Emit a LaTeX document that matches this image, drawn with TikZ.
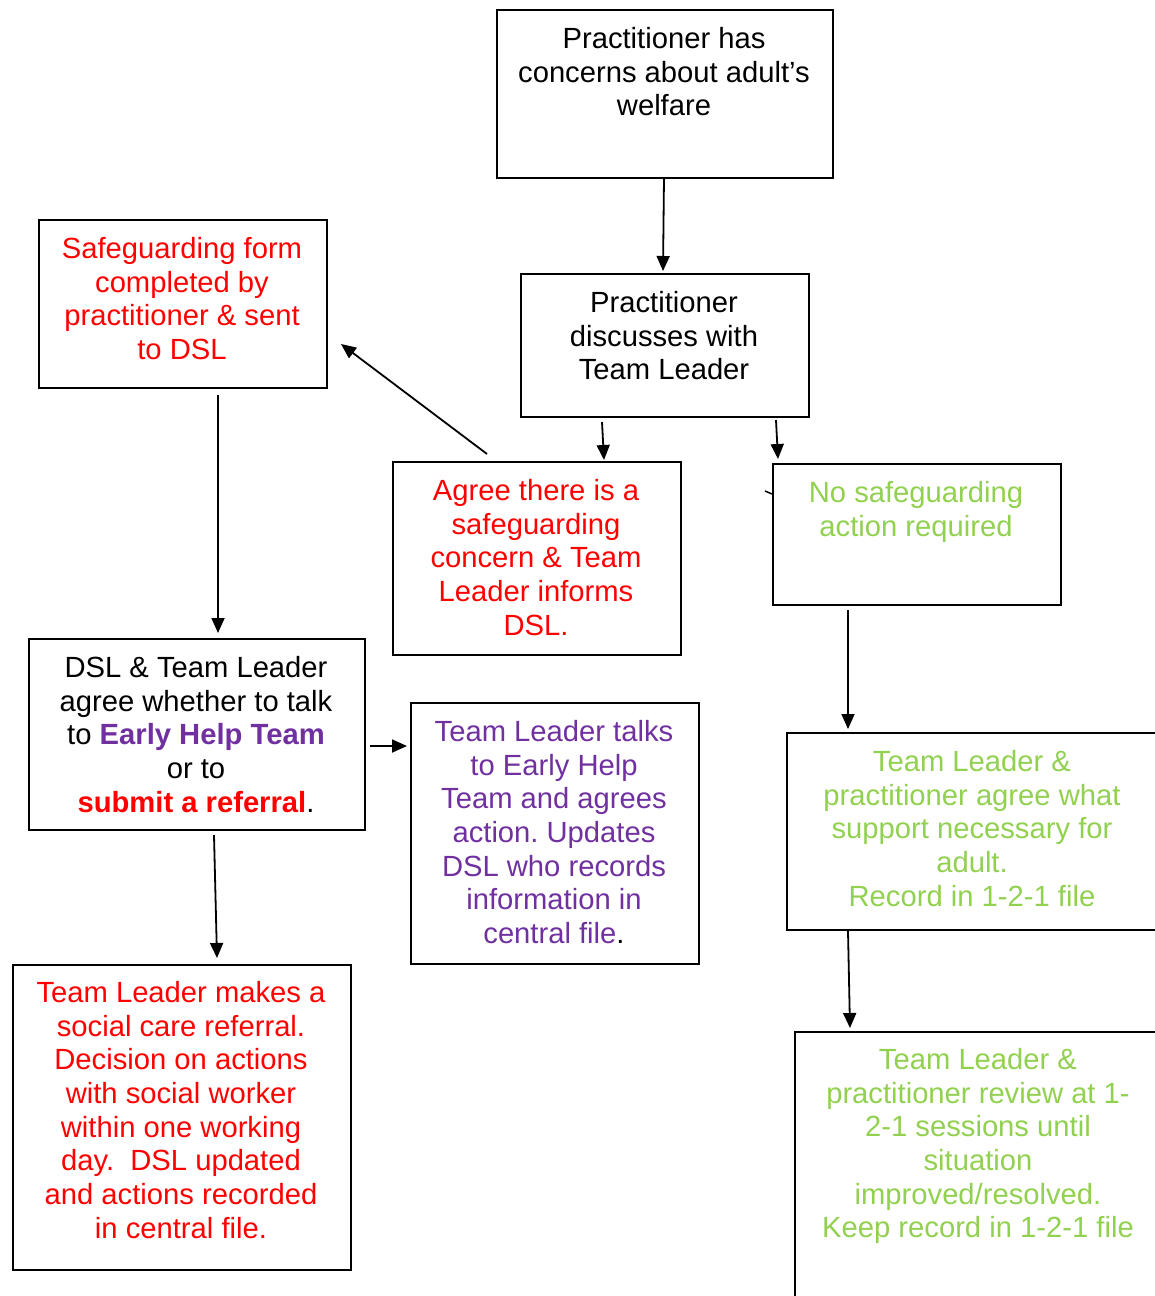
\documentclass[tikz,border=0pt]{standalone}
\usepackage{fontspec}
\setmainfont{Liberation Sans}
\usetikzlibrary{arrows.meta}
\definecolor{sred}{RGB}{255,0,0}
\definecolor{spurple}{RGB}{112,48,160}
\definecolor{sgreen}{RGB}{146,208,80}
\tikzset{
  box/.style={draw, line width=1pt, inner sep=0pt, anchor=north west},
  txt/.style={anchor=north, align=center, inner sep=0pt, font=\fontsize{14.6}{16.85}\selectfont},
  arr/.style={line width=0.9pt, -{Triangle[length=7.5pt,width=6.5pt]}},
}
\newcommand{\topstrut}{\rule{0pt}{12pt}}
\frenchspacing
\begin{document}
\begin{tikzpicture}[x=0.5pt,y=-0.5pt]
\useasboundingbox (0,0) rectangle (1155,1296);
\clip (0,0) rectangle (1155,1296);
% boxes
\node[box, minimum width=168pt, minimum height=84pt] (b1) at (496,9) {};
\node[box, minimum width=144pt, minimum height=71.5pt] (b2) at (520,273) {};
\node[box, minimum width=144pt, minimum height=84pt] (b3) at (38,219) {};
\node[box, minimum width=144pt, minimum height=96.5pt] (b4) at (392,461) {};
\node[box, minimum width=144pt, minimum height=70.5pt] (b5) at (772,463) {};
\node[box, minimum width=168pt, minimum height=95.5pt] (b6) at (28,638) {};
\node[box, minimum width=144pt, minimum height=130.5pt] (b7) at (410,702) {};
\node[box, minimum width=187pt, minimum height=98.5pt] (b8) at (786,732) {};
\node[box, minimum width=169pt, minimum height=152.5pt] (b9) at (12,964) {};
\node[box, minimum width=185pt, minimum height=140pt] (b10) at (794,1031) {};
% texts
\node[txt] (t1) at (664,24) {\topstrut Practitioner has\\concerns about adult’s\\welfare};
\node[txt] (t2) at (664,288) {\topstrut Practitioner\\discusses with\\Team Leader};
\node[txt, text=sred] (t3) at (182,234) {\topstrut Safeguarding form\\completed by\\practitioner \& sent\\to DSL};
\node[txt, text=sred] (t4) at (536,476) {\topstrut Agree there is a\\safeguarding\\concern \& Team\\Leader informs\\DSL.};
\node[txt, text=sgreen] (t5) at (916,478) {\topstrut No safeguarding\\action required};
\node[txt] (t6) at (196,653) {\topstrut DSL \& Team Leader\\agree whether to talk\\to \textcolor{spurple}{\bfseries Early Help Team}\\or to\\\textcolor{sred}{\bfseries submit a referral}.};
\node[txt, text=spurple] (t7) at (554,717) {\topstrut Team Leader talks\\to Early Help\\Team and agrees\\action. Updates\\DSL who records\\information in\\central file\textcolor{black}{.}};
\node[txt, text=sgreen] (t8) at (972,747) {\topstrut Team Leader \&\\practitioner agree what\\support necessary for\\adult.\\Record in 1-2-1 file};
\node[txt, text=sred] (t9) at (181,978) {\topstrut Team Leader makes a\\social care referral.\\Decision on actions\\with social worker\\within one working\\day.\ \ DSL updated\\and actions recorded\\in central file.};
\node[txt, text=sgreen] (t10) at (978,1045) {\topstrut Team Leader \&\\practitioner review at 1-\\2-1 sessions until\\situation\\improved/resolved.\\Keep record in 1-2-1 file};
% connector end points
\coordinate (c1a) at (664,177); \coordinate (c1b) at (663,271);
\coordinate (c2a) at (602,422); \coordinate (c2b) at (604,460);
\coordinate (c3a) at (776,420); \coordinate (c3b) at (778,459);
\coordinate (c4a) at (487,454); \coordinate (c4b) at (341,344);
\coordinate (c5a) at (218,395); \coordinate (c5b) at (218,633);
\coordinate (c6a) at (370,746); \coordinate (c6b) at (407,746);
\coordinate (c7a) at (214,835); \coordinate (c7b) at (217,958);
\coordinate (c8a) at (848,610); \coordinate (c8b) at (848,729);
\coordinate (c9a) at (848,931); \coordinate (c9b) at (850,1028);
\coordinate (k1) at (765,491); \coordinate (k2) at (772,494);
\draw[arr] (c1a) -- (c1b);
\draw[arr] (c2a) -- (c2b);
\draw[arr] (c3a) -- (c3b);
\draw[arr] (c4a) -- (c4b);
\draw[arr] (c5a) -- (c5b);
\draw[arr] (c6a) -- (c6b);
\draw[arr] (c7a) -- (c7b);
\draw[arr] (c8a) -- (c8b);
\draw[arr] (c9a) -- (c9b);
\draw[line width=0.75pt] (k1) -- (k2);
\end{tikzpicture}
\end{document}
